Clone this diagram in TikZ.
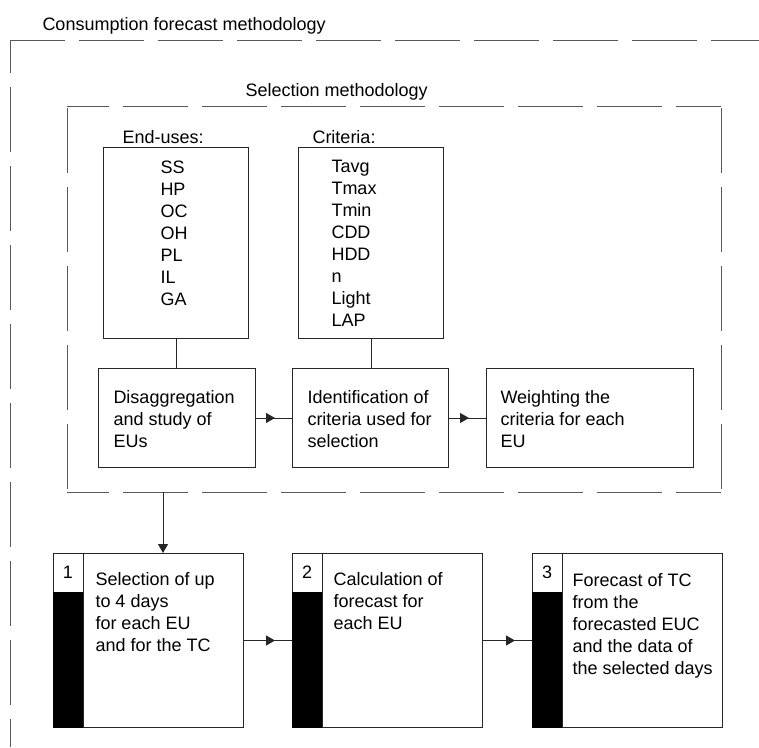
\documentclass[tikz,border=0pt]{standalone}
\usepackage{fontspec}
\setmainfont{Liberation Sans}
\usetikzlibrary{arrows.meta,decorations.markings}

\begin{document}
\begin{tikzpicture}[x=1pt,y=-1pt,line width=1pt,
  every node/.style={font=\fontsize{18}{22}\selectfont,inner sep=0pt},
  frameline/.style={draw=black!65,dash pattern=on 65pt off 14pt},
  box/.style={draw=black!85,anchor=north west},
  txt/.style={align=left,anchor=north west},
  link/.style={draw=black!85},
  midarrow/.style={link,postaction={decorate},
    decoration={markings,mark=at position -17pt with {\arrow{Triangle[length=9pt,width=10pt]}}}}]
  \useasboundingbox (0,0) rectangle (759,747);

  % dashed frames, one side at a time so the gaps fall as in the original
  \draw[frameline,dash phase=10pt] (10,40) -- (759,40);
  \draw[frameline,dash phase=32pt] (10,40) -- (10,747);
  \draw[frameline,dash phase=23pt] (67,106) -- (721,106);
  \draw[frameline,dash phase=23pt] (67,492) -- (721,492);
  \draw[frameline,dash phase=77pt] (67,106) -- (67,492);
  \draw[frameline,dash phase=77pt] (721,106) -- (721,492);
  \node[anchor=base west] (outlbl) at (42,30) {Consumption forecast methodology};
  \node[anchor=base west] (sellbl) at (245,96) {Selection methodology};

  \node[anchor=base west] (eulbl) at (122,143) {End-uses:};
  \node[anchor=base west] (crlbl) at (312,143) {Criteria:};
  \node[box,minimum width=145pt,minimum height=191pt] (eubox) at (103,147) {};
  \node[box,minimum width=145pt,minimum height=191pt] (crbox) at (298,147) {};
  \node[txt] (eutxt) at ([shift={(57,13)}]eubox.north west) {SS\\HP\\OC\\OH\\PL\\IL\\GA};
  \node[txt] (crtxt) at ([shift={(33,13)}]crbox.north west) {Tavg\\Tmax\\Tmin\\CDD\\HDD\\n\\Light\\LAP};

  \node[box,minimum width=157pt,minimum height=99pt] (disbox) at (98,368) {};
  \node[box,minimum width=156pt,minimum height=99pt] (idbox) at (292,368) {};
  \node[box,minimum width=207pt,minimum height=99pt] (wtbox) at (486,368) {};
  \node[txt] (distxt) at ([shift={(15,22)}]disbox.north west) {Disaggregation\\and study of\\EUs};
  \node[txt] (idtxt) at ([shift={(15,22)}]idbox.north west) {Identification of\\criteria used for\\selection};
  \node[txt] (wttxt) at ([shift={(14,22)}]wtbox.north west) {Weighting the\\criteria for each\\EU};

  \node[box,minimum width=190pt,minimum height=174pt] (selbox) at (53,553) {};
  \node[box,minimum width=190pt,minimum height=174pt] (calcbox) at (292,553) {};
  \node[box,minimum width=190pt,minimum height=174pt] (fcbox) at (532,553) {};
  \foreach \bx/\n in {selbox/1,calcbox/2,fcbox/3}{
    \fill[black] ([yshift=-39pt]\bx.north west) rectangle ([xshift=30pt]\bx.south west);
    \draw[black!85] ([xshift=30pt]\bx.north west) -- ([xshift=30pt]\bx.south west);
    \node[anchor=base] (num\n) at ([shift={(15,25)}]\bx.north west) {\n};
  }
  \node[txt] (seltxt) at ([shift={(42,19)}]selbox.north west) {Selection of up\\to 4 days\\for each EU\\and for the TC};
  \node[txt] (calctxt) at ([shift={(41,19)}]calcbox.north west) {Calculation of\\forecast for\\each EU};
  \node[txt] (fctxt) at ([shift={(40,20)}]fcbox.north west) {Forecast of TC\\from the\\forecasted EUC\\and the data of\\the selected days};

  \draw[link] (eubox.south) -- (eubox.south |- disbox.north);
  \draw[link] (crbox.south) -- (crbox.south |- idbox.north);
  \draw[midarrow] (disbox.east) -- (idbox.west);
  \draw[midarrow] (idbox.east) -- (wtbox.west);
  \coordinate (drop) at (163,492);
  \draw[link,-{Triangle[length=9pt,width=10pt]}] (drop) -- (drop |- selbox.north);
  \draw[midarrow] (selbox.east) -- (calcbox.west);
  \draw[midarrow] (calcbox.east) -- (fcbox.west);
\end{tikzpicture}
\end{document}
